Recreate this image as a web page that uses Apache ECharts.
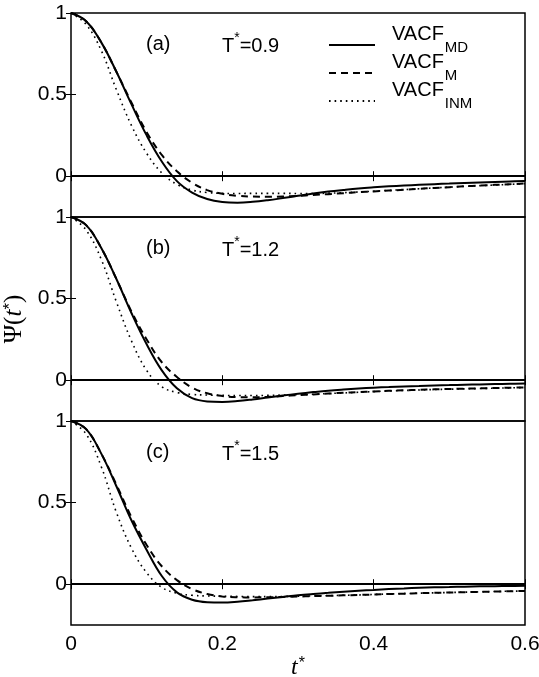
<!DOCTYPE html>
<html>
<head>
<meta charset="utf-8">
<script src="https://cdn.jsdelivr.net/npm/echarts@6/dist/echarts.min.js"></script>
<style>
  html, body { margin: 0; padding: 0; background: #fff; }
  #chart { width: 539px; height: 677px; }
</style>
</head>
<body>
<div id="chart"></div>
<script>
// Reduced time t* (shared by every curve)
const tStar = [0, 0.02, 0.04, 0.06, 0.08, 0.10, 0.12, 0.14, 0.16, 0.18, 0.20,
  0.22, 0.24, 0.26, 0.28, 0.30, 0.32, 0.34, 0.36, 0.38, 0.40,
  0.42, 0.44, 0.46, 0.48, 0.50, 0.52, 0.54, 0.56, 0.58, 0.60];

// Panel (a): T* = 0.9
const mdA = [1, 0.95, 0.82, 0.64, 0.44, 0.25, 0.09, -0.03, -0.10, -0.14, -0.158,
  -0.162, -0.157, -0.147, -0.134, -0.120, -0.106, -0.094, -0.084, -0.075, -0.068,
  -0.062, -0.057, -0.053, -0.049, -0.045, -0.041, -0.038, -0.035, -0.032, -0.029];
const mA = [1, 0.95, 0.82, 0.64, 0.45, 0.27, 0.13, 0.03, -0.04, -0.085, -0.108,
  -0.12, -0.125, -0.126, -0.124, -0.12, -0.115, -0.11, -0.104, -0.098, -0.093,
  -0.088, -0.083, -0.077, -0.072, -0.067, -0.062, -0.057, -0.053, -0.049, -0.045];
const inmA = [1, 0.93, 0.77, 0.53, 0.31, 0.14, 0.02, -0.05, -0.085, -0.10, -0.105,
  -0.106, -0.105, -0.105, -0.105, -0.106, -0.106, -0.104, -0.101, -0.097, -0.092,
  -0.087, -0.082, -0.077, -0.072, -0.067, -0.062, -0.058, -0.054, -0.050, -0.046];

// Panel (b): T* = 1.2
const mdB = [1, 0.95, 0.81, 0.62, 0.41, 0.22, 0.06, -0.05, -0.11, -0.13, -0.133,
  -0.128, -0.118, -0.106, -0.094, -0.083, -0.073, -0.064, -0.057, -0.051, -0.046,
  -0.042, -0.038, -0.035, -0.032, -0.030, -0.028, -0.026, -0.024, -0.022, -0.020];
const mB = [1, 0.95, 0.81, 0.62, 0.42, 0.25, 0.11, 0.02, -0.045, -0.08, -0.097,
  -0.104, -0.105, -0.102, -0.097, -0.092, -0.087, -0.082, -0.077, -0.073, -0.069,
  -0.065, -0.062, -0.059, -0.056, -0.054, -0.052, -0.050, -0.048, -0.046, -0.044];
const inmB = [1, 0.92, 0.74, 0.48, 0.24, 0.06, -0.04, -0.075, -0.087, -0.091, -0.093,
  -0.094, -0.094, -0.093, -0.091, -0.089, -0.086, -0.082, -0.078, -0.074, -0.070,
  -0.066, -0.063, -0.060, -0.057, -0.055, -0.053, -0.051, -0.049, -0.047, -0.045];

// Panel (c): T* = 1.5
const mdC = [1, 0.95, 0.80, 0.60, 0.39, 0.21, 0.05, -0.05, -0.095, -0.11, -0.112,
  -0.107, -0.098, -0.088, -0.078, -0.068, -0.060, -0.053, -0.046, -0.040, -0.035,
  -0.030, -0.026, -0.022, -0.019, -0.017, -0.015, -0.013, -0.012, -0.011, -0.010];
const mC = [1, 0.95, 0.80, 0.61, 0.41, 0.24, 0.11, 0.025, -0.03, -0.06, -0.075,
  -0.08, -0.081, -0.080, -0.078, -0.076, -0.073, -0.071, -0.068, -0.066, -0.063,
  -0.060, -0.058, -0.055, -0.053, -0.051, -0.049, -0.047, -0.045, -0.043, -0.042];
const inmC = [1, 0.92, 0.72, 0.44, 0.22, 0.07, -0.02, -0.055, -0.068, -0.072, -0.074,
  -0.075, -0.076, -0.076, -0.075, -0.074, -0.072, -0.070, -0.068, -0.066, -0.063,
  -0.060, -0.058, -0.055, -0.053, -0.051, -0.049, -0.047, -0.045, -0.043, -0.042];

const panelTags = ['(a)', '(b)', '(c)'];
const panelTemps = ['0.9', '1.2', '1.5'];
const seriesNames = ['MD', 'M', 'INM'];
const xTicks = [0, 0.2, 0.4, 0.6];
const yTicks = [0, 0.5, 1];

const panels = [[mdA, mA, inmA], [mdB, mB, inmB], [mdC, mC, inmC]];

// layout of the three stacked frames (pixels)
const plotLeft = 71, plotRight = 14, panelH = 204;
const panelTops = [13, 217, 421];

const sans = 'Liberation Sans, Arial, Helvetica, sans-serif';
const serif = 'Liberation Serif, Times New Roman, serif';

const lineStyles = [
  { color: '#000', width: 2, type: 'solid' },
  { color: '#000', width: 2, type: [7, 5] },
  { color: '#000', width: 1.6, type: [1.6, 4] }
];

const grids = [], xAxes = [], yAxes = [], series = [], graphics = [];

panels.forEach((curves, i) => {
  grids.push({
    left: plotLeft, right: plotRight, top: panelTops[i], height: panelH,
    show: true, borderColor: '#000', borderWidth: 1.5,
    containLabel: false, outerBoundsMode: 'none'
  });
  const isLast = i === panels.length - 1;
  const xBase = {
    gridIndex: i, type: 'value', min: 0, max: 0.6, interval: 0.2,
    axisLine: { show: false },
    splitLine: { show: false },
    axisTick: { show: true, inside: true, length: 5, lineStyle: { color: '#000', width: 1 } }
  };
  xAxes.push(Object.assign({}, xBase, {
    position: 'bottom',
    axisLabel: {
      show: isLast, margin: 9, color: '#000', fontSize: 21, fontFamily: sans,
      customValues: xTicks, formatter: v => String(v)
    },
    name: isLast ? '{it|t}{st|*}' : '',
    nameLocation: 'middle', nameGap: 29,
    nameTextStyle: {
      rich: {
        it: { fontFamily: serif, fontStyle: 'italic', fontSize: 24, color: '#000' },
        st: { fontFamily: sans, fontSize: 16, color: '#000', padding: [0, 0, 8, 1] }
      }
    }
  }));
  xAxes.push(Object.assign({}, xBase, {
    position: 'top', axisLabel: { show: false }
  }));
  const yBase = {
    gridIndex: i, type: 'value', min: -0.25, max: 1, interval: 0.25,
    axisLine: { show: false },
    splitLine: { show: false },
    axisTick: { show: true, inside: true, length: 5, customValues: yTicks,
      lineStyle: { color: '#000', width: 1 } }
  };
  yAxes.push(Object.assign({}, yBase, {
    position: 'left',
    axisLabel: { show: true, margin: 4, color: '#000', fontSize: 21, fontFamily: sans,
      customValues: yTicks, formatter: v => String(v) },
    name: i === 1 ? '{psi|Ψ}{p|(}{it|t}{st|*}{p|)}' : '',
    nameLocation: 'middle', nameRotate: 90, nameGap: 37,
    nameTextStyle: {
      rich: {
        psi: { fontFamily: serif, fontSize: 25, color: '#000' },
        p: { fontFamily: serif, fontSize: 25, color: '#000' },
        it: { fontFamily: serif, fontStyle: 'italic', fontSize: 25, color: '#000' },
        st: { fontFamily: sans, fontSize: 17, color: '#000', padding: [0, 0, 8, 0] }
      }
    }
  }));
  yAxes.push(Object.assign({}, yBase, {
    position: 'right', axisLabel: { show: false }
  }));

  curves.forEach((vals, k) => {
    const s = {
      name: seriesNames[k], type: 'line',
      xAxisIndex: i * 2, yAxisIndex: i * 2,
      data: tStar.map((t, j) => [t, vals[j]]),
      symbol: 'none', smooth: 0.4,
      lineStyle: lineStyles[k],
      itemStyle: { color: '#000' },
      z: 3 - k,
      silent: true
    };
    if (k === 0) {
      s.markLine = {
        silent: true, symbol: 'none', label: { show: false },
        lineStyle: { color: '#000', width: 2, type: 'solid' },
        data: [{ yAxis: 0 }]
      };
    }
    series.push(s);
  });

  // panel tag and temperature
  const cy = panelTops[i] + 33;
  graphics.push({
    type: 'text', left: 146, top: cy - 12,
    style: { text: panelTags[i], font: '20px ' + sans, fill: '#000' }
  });
  graphics.push({
    type: 'text', left: 222, top: cy - 15,
    style: {
      text: '{n|T}{s|*}{n|=' + panelTemps[i] + '}',
      rich: {
        n: { fontFamily: sans, fontSize: 20, fill: '#000', color: '#000', verticalAlign: 'bottom', lineHeight: 25 },
        s: { fontFamily: sans, fontSize: 14, fill: '#000', color: '#000', verticalAlign: 'top', lineHeight: 14 }
      }
    }
  });
});

const option = {
  animation: false,
  backgroundColor: '#fff',
  grid: grids,
  xAxis: xAxes,
  yAxis: yAxes,
  series: series,
  graphic: graphics,
  legend: {
    data: seriesNames,
    orient: 'vertical',
    left: 328, top: 24,
    padding: 0,
    itemWidth: 46, itemHeight: 12, itemGap: -3,
    selectedMode: false,
    itemStyle: { opacity: 0 },
    formatter: name => '{a|VACF}{b|' + name + '}',
    textStyle: {
      color: '#000',
      rich: {
        a: { fontFamily: sans, fontSize: 20, lineHeight: 20, verticalAlign: 'bottom', padding: [0, 0, 11, 12] },
        b: { fontFamily: sans, fontSize: 15, lineHeight: 15, verticalAlign: 'bottom', padding: [0, 0, 0, 1] }
      }
    }
  }
};

const chart = echarts.init(document.getElementById('chart'), null, { renderer: 'canvas' });
chart.setOption(option);
</script>
</body>
</html>
